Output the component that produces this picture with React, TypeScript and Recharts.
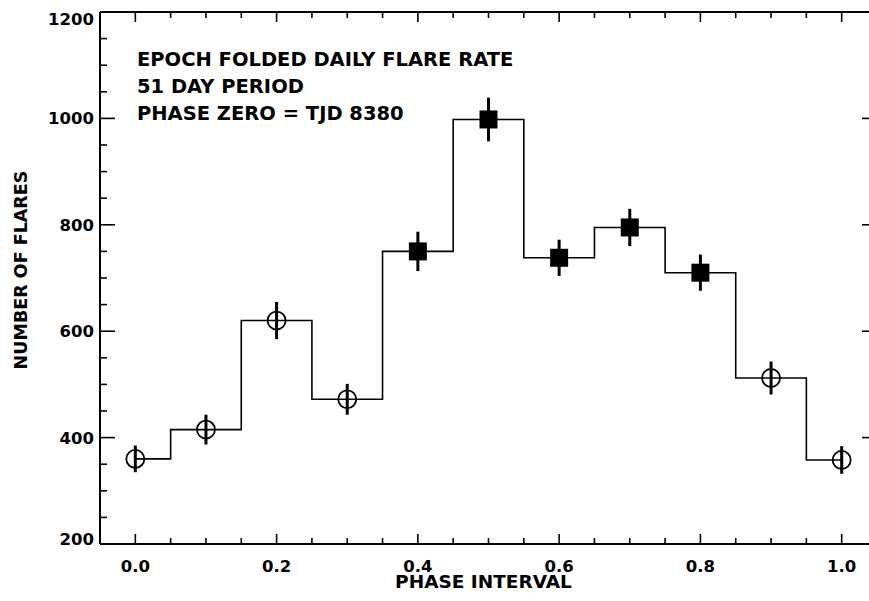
import { ComposedChart, Line, Scatter, ErrorBar, XAxis, YAxis } from "recharts";

// epoch folded flare counts, one bin per 0.1 in phase
const PHASE = [0.0, 0.1, 0.2, 0.3, 0.4, 0.5, 0.6, 0.7, 0.8, 0.9, 1.0];
const FLARES = [360, 415, 620, 472, 750, 998, 738, 795, 710, 512, 358];
const ERRORS = [25, 28, 35, 29, 37, 41, 34, 35, 34, 31, 26];
const MARKER = ["open", "open", "open", "open", "solid", "solid", "solid", "solid", "solid", "open", "open"];

const X_TICKS = [0, 0.05, 0.1, 0.15, 0.2, 0.25, 0.3, 0.35, 0.4, 0.45, 0.5, 0.55, 0.6, 0.65, 0.7, 0.75, 0.8, 0.85, 0.9, 0.95, 1.0];
const X_LABELS = ["0.0", "0.2", "0.4", "0.6", "0.8", "1.0"];
const Y_TICKS = [200, 250, 300, 350, 400, 450, 500, 550, 600, 650, 700, 750, 800, 850, 900, 950, 1000, 1050, 1100, 1150, 1200];
const Y_LABELS = ["200", "400", "600", "800", "1000", "1200"];

const TITLE = ["EPOCH FOLDED DAILY FLARE RATE", "51 DAY PERIOD", "PHASE ZERO = TJD 8380"];
const X_TITLE = "PHASE INTERVAL";
const Y_TITLE = "NUMBER OF FLARES";

const FONT = "'DejaVu Sans', sans-serif";

const rows = PHASE.map((p, i) => ({ phase: p, flares: FLARES[i], err: ERRORS[i], kind: MARKER[i] }));
const openRows = rows.filter(r => r.kind === "open");
const solidRows = rows.filter(r => r.kind === "solid");

const xLabelFor = (v: number) => X_LABELS.find(l => Math.abs(parseFloat(l) - v) < 1e-6);
const yLabelFor = (v: number) => Y_LABELS.find(l => parseFloat(l) === v);

function BottomTick({ x, y, payload }: any) {
  const label = xLabelFor(payload.value);
  return (
    <g>
      <line x1={x} x2={x} y1={y} y2={y - (label ? 10 : 6)} stroke="#000" strokeWidth={1.6} />
      {label && (
        <text x={x} y={y + 28} textAnchor="middle" fontFamily={FONT} fontWeight="bold" fontSize={16.5} fill="#000">
          {label}
        </text>
      )}
    </g>
  );
}

function TopTick({ x, y, payload }: any) {
  const label = xLabelFor(payload.value);
  return <line x1={x} x2={x} y1={y} y2={y + (label ? 10 : 6)} stroke="#000" strokeWidth={1.6} />;
}

function LeftTick({ x, y, payload }: any) {
  const label = yLabelFor(payload.value);
  // the end labels sit a little inside the frame
  const shift = payload.value === 1200 ? 7 : payload.value === 200 ? -5 : 0;
  return (
    <g>
      <line x1={x} x2={x + (label ? 15 : 7)} y1={y} y2={y} stroke="#000" strokeWidth={1.6} />
      {label && (
        <text x={x - 6} y={y + 6 + shift} textAnchor="end" fontFamily={FONT} fontWeight="bold" fontSize={16.5} fill="#000">
          {label}
        </text>
      )}
    </g>
  );
}

function RightTick({ x, y, payload }: any) {
  const label = yLabelFor(payload.value);
  return <line x1={x} x2={x - (label ? 15 : 7)} y1={y} y2={y} stroke="#000" strokeWidth={1.6} />;
}

function OpenMarker({ cx, cy }: any) {
  return <circle cx={cx} cy={cy} r={9} fill="none" stroke="#000" strokeWidth={1.8} />;
}

function SolidMarker({ cx, cy }: any) {
  return <rect x={cx - 9} y={cy - 9} width={18} height={18} fill="#000" />;
}

function TitleBlock({ viewBox }: any) {
  return (
    <g>
      {TITLE.map((t, i) => (
        <text key={t} x={viewBox.x + 37} y={viewBox.y + 55 + i * 27} fontFamily={FONT} fontWeight="bold" fontSize={19.5} fill="#000">
          {t}
        </text>
      ))}
    </g>
  );
}

function XTitle({ viewBox }: any) {
  return (
    <text x={viewBox.x + viewBox.width / 2 - 5} y={viewBox.y + 44} textAnchor="middle" fontFamily={FONT} fontWeight="bold" fontSize={18.5} fill="#000">
      {X_TITLE}
    </text>
  );
}

function YTitle({ viewBox }: any) {
  const cx = 27;
  const cy = viewBox.y + viewBox.height / 2 - 8;
  return (
    <text x={cx} y={cy} transform={`rotate(-90, ${cx}, ${cy})`} textAnchor="middle" fontFamily={FONT} fontWeight="bold" fontSize={17.5} fill="#000">
      {Y_TITLE}
    </text>
  );
}

export default function App() {
  const axisLine = { stroke: "#000", strokeWidth: 2 };
  return (
    <div style={{ position: "fixed", left: 0, top: 0, width: 869, height: 601, overflow: "hidden", background: "#fff" }}>
      <ComposedChart width={880} height={601} margin={{ top: 11, right: 2, bottom: 27, left: 0 }}>
        <XAxis
          xAxisId="bottom"
          dataKey="phase"
          type="number"
          domain={[-0.05, 1.05]}
          ticks={X_TICKS}
          allowDataOverflow
          height={30}
          tickSize={0}
          tickMargin={0}
          tickLine={false}
          axisLine={axisLine}
          tick={<BottomTick />}
          interval={0}
          label={{ content: XTitle }}
        />
        <XAxis
          xAxisId="top"
          orientation="top"
          dataKey="phase"
          type="number"
          domain={[-0.05, 1.05]}
          ticks={X_TICKS}
          allowDataOverflow
          height={1}
          tickSize={0}
          tickMargin={0}
          tickLine={false}
          axisLine={axisLine}
          tick={<TopTick />}
          interval={0}
          label={{ content: TitleBlock }}
        />
        <YAxis
          yAxisId="left"
          type="number"
          domain={[200, 1200]}
          ticks={Y_TICKS}
          allowDataOverflow
          width={100}
          tickSize={0}
          tickMargin={0}
          tickLine={false}
          axisLine={axisLine}
          tick={<LeftTick />}
          interval={0}
          label={{ content: YTitle }}
        />
        <YAxis
          yAxisId="right"
          orientation="right"
          type="number"
          domain={[200, 1200]}
          ticks={Y_TICKS}
          allowDataOverflow
          width={1}
          tickSize={0}
          tickMargin={0}
          tickLine={false}
          axisLine={axisLine}
          tick={<RightTick />}
          interval={0}
        />
        <Line
          xAxisId="bottom"
          yAxisId="left"
          data={rows}
          dataKey="flares"
          type="step"
          stroke="#000"
          strokeWidth={1.6}
          dot={false}
          activeDot={false}
          isAnimationActive={false}
        />
        <Scatter xAxisId="bottom" yAxisId="left" data={openRows} dataKey="flares" shape={<OpenMarker />} isAnimationActive={false}>
          <ErrorBar dataKey="err" direction="y" width={0} stroke="#000" strokeWidth={3} isAnimationActive={false} />
        </Scatter>
        <Scatter xAxisId="bottom" yAxisId="left" data={solidRows} dataKey="flares" shape={<SolidMarker />} isAnimationActive={false}>
          <ErrorBar dataKey="err" direction="y" width={0} stroke="#000" strokeWidth={3} isAnimationActive={false} />
        </Scatter>
      </ComposedChart>
    </div>
  );
}
